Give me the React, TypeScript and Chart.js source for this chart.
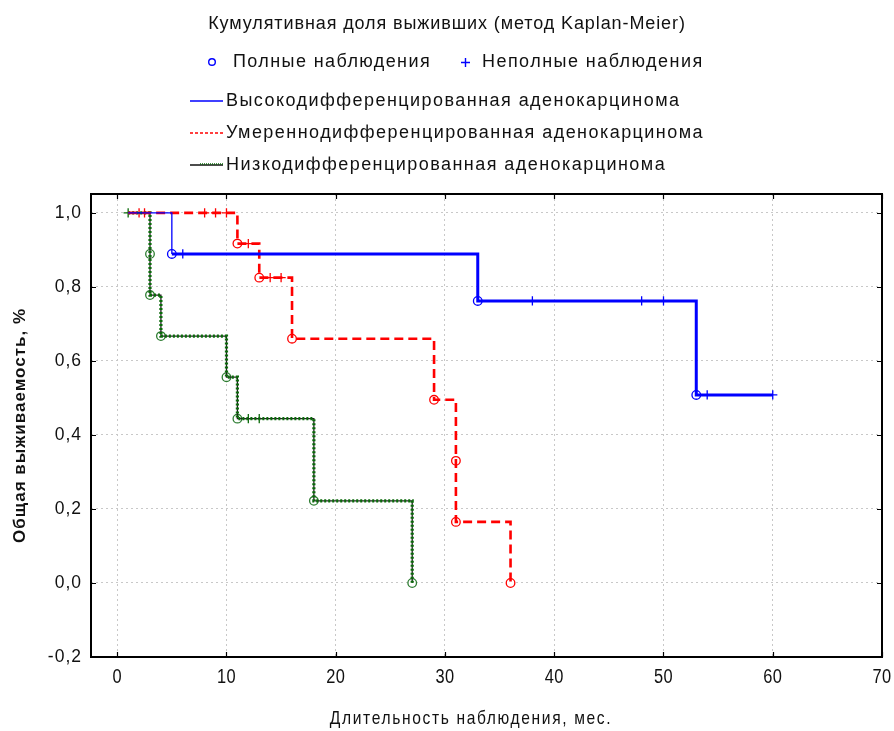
import React, { useEffect, useRef } from "react";
import { Chart, registerables } from "chart.js";

Chart.register(...registerables);

// ---- Data (time in months, survival proportion) ----
const xTicks = [0, 10, 20, 30, 40, 50, 60, 70];
const yTicks = [-0.2, 0, 0.2, 0.4, 0.6, 0.8, 1.0];

// High-differentiated (blue)
const blueStartT = [1, 5];
const blueStartS = [1.0, 0.889];
const blueT = [5, 33, 53, 60];
const blueS = [0.889, 0.762, 0.508, 0.508];
const blueEventT = [5, 33, 53];
const blueEventS = [0.889, 0.762, 0.508];
const blueCensT = [6, 38, 48, 50, 54, 60];
const blueCensS = [0.889, 0.762, 0.762, 0.762, 0.508, 0.508];

// Moderately differentiated (red)
const redT = [1, 11, 13, 16, 29, 31, 31, 36];
const redS = [1.0, 0.917, 0.825, 0.66, 0.495, 0.33, 0.165, 0.0];
const redEventT = [11, 13, 16, 29, 31, 31, 36];
const redEventS = [0.917, 0.825, 0.66, 0.495, 0.33, 0.165, 0.0];
const redCensT = [2, 2.5, 8, 9, 10, 12, 14, 15];
const redCensS = [1.0, 1.0, 1.0, 1.0, 1.0, 0.917, 0.825, 0.825];

// Low-differentiated (black/green)
const greenT = [1, 3, 3, 4, 10, 11, 18, 27];
const greenS = [1.0, 0.889, 0.778, 0.667, 0.556, 0.444, 0.222, 0.0];
const greenEventT = [3, 3, 4, 10, 11, 18, 27];
const greenEventS = [0.889, 0.778, 0.667, 0.556, 0.444, 0.222, 0.0];
const greenCensT = [1, 12, 13];
const greenCensS = [1.0, 0.444, 0.444];

const titleText = "Кумулятивная доля выживших (метод Kaplan-Meier)";
const fullObsText = "Полные наблюдения";
const censObsText = "Неполные наблюдения";
const seriesNames = [
  "Высокодифференцированная аденокарцинома",
  "Умереннодифференцированная аденокарцинома",
  "Низкодифференцированная аденокарцинома",
];
const xTitle = "Длительность наблюдения, мес.";
const yTitle = "Общая выживаемость, %";

const BLUE = "#0000ff";
const RED = "#ff0000";
const GREEN = "#0b6b0b";
const GREEN_MARK = "#2e7d32";
const FONT = '"Liberation Sans", Arial, sans-serif';

const pts = (t: number[], s: number[]) => t.map((x, i) => ({ x, y: s[i] }));

function drawText(
  ctx: any,
  text: string,
  x: number,
  y: number,
  opts: { font: string; align?: string; spacing?: number; sx?: number; color?: string }
) {
  ctx.save();
  ctx.font = opts.font;
  ctx.fillStyle = opts.color || "#111";
  ctx.textBaseline = "middle";
  ctx.textAlign = opts.align || "left";
  try {
    ctx.letterSpacing = `${opts.spacing || 0}px`;
  } catch (e) {}
  ctx.translate(x, y);
  ctx.scale(opts.sx || 1, 1);
  ctx.fillText(text, 0, 0);
  ctx.restore();
}

const decorPlugin = {
  id: "decor",
  afterDatasetsDraw(chart: any) {
    const { ctx, chartArea: a, scales } = chart;
    const xs = scales.x;
    const ys = scales.y;
    ctx.save();
    ctx.strokeStyle = "#000";
    ctx.lineWidth = 1.2;
    ctx.beginPath();
    for (const v of xTicks) {
      const px = Math.round(xs.getPixelForValue(v)) + 0.5;
      ctx.moveTo(px, a.bottom);
      ctx.lineTo(px, a.bottom - 5);
      ctx.moveTo(px, a.top);
      ctx.lineTo(px, a.top + 5);
    }
    for (const v of yTicks) {
      const py = Math.round(ys.getPixelForValue(v)) + 0.5;
      ctx.moveTo(a.left, py);
      ctx.lineTo(a.left + 5, py);
      ctx.moveTo(a.right, py);
      ctx.lineTo(a.right - 5, py);
    }
    ctx.stroke();
    ctx.lineWidth = 2;
    ctx.strokeRect(a.left, a.top, a.right - a.left, a.bottom - a.top);
    ctx.restore();

    // tick labels
    for (const v of xTicks) {
      const px = xs.getPixelForValue(v);
      drawText(ctx, String(v), px, a.bottom + 20, {
        font: `20px ${FONT}`,
        align: "center",
        sx: 0.82,
        spacing: 0.5,
      });
    }
    for (const v of yTicks) {
      const py = ys.getPixelForValue(v);
      drawText(ctx, v.toFixed(1).replace(".", ","), a.left - 9, py, {
        font: `17.5px ${FONT}`,
        align: "right",
        spacing: 1,
      });
    }
  },
  afterDraw(chart: any) {
    const { ctx, chartArea: a } = chart;
    const lf = `18px ${FONT}`;
    drawText(ctx, titleText, 447, 24, { font: lf, align: "center", spacing: 0.9 });
    // markers row
    ctx.save();
    ctx.strokeStyle = BLUE;
    ctx.lineWidth = 1.4;
    ctx.beginPath();
    ctx.arc(212, 62, 3.3, 0, Math.PI * 2);
    ctx.stroke();
    ctx.beginPath();
    ctx.moveTo(461, 62.5);
    ctx.lineTo(470, 62.5);
    ctx.moveTo(465.5, 58);
    ctx.lineTo(465.5, 67);
    ctx.stroke();
    ctx.restore();
    drawText(ctx, fullObsText, 233, 62, { font: lf, spacing: 1.4 });
    drawText(ctx, censObsText, 482, 62, { font: lf, spacing: 1.45 });
    // line rows
    const rows = [101, 133, 165];
    ctx.save();
    ctx.lineWidth = 1.5;
    ctx.strokeStyle = BLUE;
    ctx.beginPath();
    ctx.moveTo(190, rows[0]);
    ctx.lineTo(223, rows[0]);
    ctx.stroke();
    ctx.strokeStyle = RED;
    ctx.lineWidth = 1.3;
    ctx.setLineDash([3, 2]);
    ctx.beginPath();
    ctx.moveTo(190, rows[1]);
    ctx.lineTo(223, rows[1]);
    ctx.stroke();
    ctx.setLineDash([]);
    ctx.strokeStyle = "#111";
    ctx.beginPath();
    ctx.moveTo(190, rows[2]);
    ctx.lineTo(223, rows[2]);
    ctx.stroke();
    ctx.strokeStyle = GREEN;
    ctx.setLineDash([1, 1]);
    ctx.beginPath();
    ctx.moveTo(200, rows[2] - 1);
    ctx.lineTo(223, rows[2] - 1);
    ctx.stroke();
    ctx.restore();
    seriesNames.forEach((n, i) => drawText(ctx, n, 226, rows[i], { font: lf, spacing: 1.45 }));
    // axis titles
    drawText(ctx, xTitle, 471, 719, { font: `19px ${FONT}`, align: "center", sx: 0.82, spacing: 2 });
    ctx.save();
    ctx.translate(20, (a.top + a.bottom) / 2);
    ctx.rotate(-Math.PI / 2);
    drawText(ctx, yTitle, 0, 0, { font: `bold 17px ${FONT}`, align: "center", spacing: 1 });
    ctx.restore();
  },
};

export default function App() {
  const ref = useRef<HTMLCanvasElement | null>(null);
  useEffect(() => {
    document.body.style.margin = "0";
    const canvas = ref.current;
    if (!canvas) return;
    const marker = (color: string, style: string) => ({
      type: "line" as const,
      showLine: false,
      pointStyle: style,
      pointRadius: style === "circle" ? 4.3 : 4.6,
      pointBorderWidth: 1.3,
      pointBorderColor: color,
      pointBackgroundColor: "#ffffff",
      borderColor: color,
    });
    const chart = new Chart(canvas, {
      type: "line",
      data: {
        datasets: [
          {
            label: "blueStart",
            data: pts(blueStartT, blueStartS),
            stepped: "before",
            borderColor: BLUE,
            borderWidth: 1.3,
            pointRadius: 0,
          },
          {
            label: "blue",
            data: pts(blueT, blueS),
            stepped: "before",
            borderColor: BLUE,
            borderWidth: 3,
            pointRadius: 0,
          },
          {
            label: "red",
            data: pts(redT, redS),
            stepped: "before",
            borderColor: RED,
            borderWidth: 2.6,
            borderDash: [9, 5],
            pointRadius: 0,
          },
          {
            label: "greenDots",
            data: pts(greenT, greenS),
            stepped: "before",
            borderColor: GREEN,
            borderWidth: 3.2,
            borderDash: [2, 2],
            pointRadius: 0,
          },
          {
            label: "greenLine",
            data: pts(greenT, greenS),
            stepped: "before",
            borderColor: "#222",
            borderWidth: 1.3,
            pointRadius: 0,
          },
          { label: "blueEv", data: pts(blueEventT, blueEventS), ...marker(BLUE, "circle") },
          { label: "blueCens", data: pts(blueCensT, blueCensS), ...marker(BLUE, "cross") },
          { label: "redEv", data: pts(redEventT, redEventS), ...marker(RED, "circle") },
          { label: "redCens", data: pts(redCensT, redCensS), ...marker(RED, "cross") },
          { label: "greenEv", data: pts(greenEventT, greenEventS), ...marker(GREEN_MARK, "circle") },
          { label: "greenCens", data: pts(greenCensT, greenCensS), ...marker(GREEN, "cross") },
        ] as any,
      },
      options: {
        responsive: false,
        animation: false,
        devicePixelRatio: 1,
        layout: { padding: { top: 194, right: 12, left: 0, bottom: 0 } },
        plugins: { legend: { display: false }, tooltip: { enabled: false } },
        scales: {
          x: {
            type: "linear",
            min: -2.4,
            max: 70,
            afterBuildTicks: (s: any) => {
              s.ticks = xTicks.map((v) => ({ value: v }));
            },
            afterFit: (s: any) => {
              s.height = 74;
            },
            grid: { color: "#c8c8c8", drawTicks: false, lineWidth: 1 },
            border: { display: false, dash: [2, 3] },
            ticks: { display: false },
          },
          y: {
            type: "linear",
            min: -0.2,
            max: 1.051,
            afterBuildTicks: (s: any) => {
              s.ticks = yTicks.map((v) => ({ value: v }));
            },
            afterFit: (s: any) => {
              s.width = 91;
            },
            grid: { color: "#c8c8c8", drawTicks: false, lineWidth: 1 },
            border: { display: false, dash: [2, 3] },
            ticks: { display: false },
          },
        },
      },
      plugins: [decorPlugin],
    } as any);
    return () => chart.destroy();
  }, []);
  return (
    <div style={{ width: 894, height: 731 }}>
      <canvas ref={ref} width={894} height={731} />
    </div>
  );
}
